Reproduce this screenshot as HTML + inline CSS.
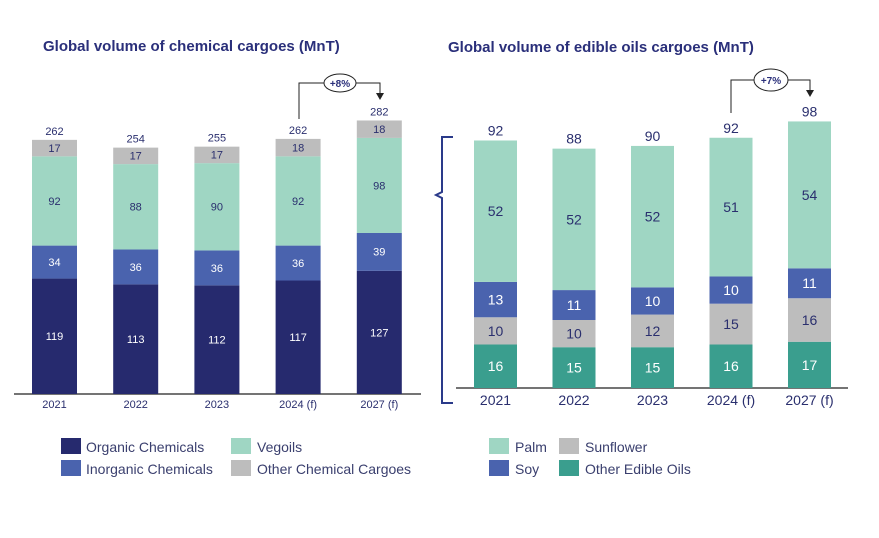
<!DOCTYPE html>
<html><head><meta charset="utf-8"><style>
body{margin:0;background:#fff;}
svg{display:block;font-family:"Liberation Sans",sans-serif;}
</style></head><body>
<svg width="879" height="538" viewBox="0 0 879 538" xmlns="http://www.w3.org/2000/svg">
<text x="43" y="51" font-size="15" font-weight="bold" fill="#2a2f7a">Global volume of chemical cargoes (MnT)</text>
<text x="448" y="52" font-size="15" font-weight="bold" fill="#2a2f7a">Global volume of edible oils cargoes (MnT)</text>
<g id="left"></g><g id="right"></g>
<path d="M453,137 L442,137 L442,192 L436,195 L442,198 L442,403 L453,403" fill="none" stroke="#2a3a8a" stroke-width="2"/>
<g>
<path d="M299,119 L299,83 L380,83 L380,94" fill="none" stroke="#222" stroke-width="1"/>
<polygon points="376,93 384,93 380,100" fill="#222"/>
<ellipse cx="340" cy="83" rx="16" ry="9" fill="#fff" stroke="#222"/>
<text x="340" y="87" font-size="10" font-weight="bold" text-anchor="middle" fill="#2a2f7a">+8%</text></g>
<g>
<path d="M731,113 L731,80 L810,80 L810,91" fill="none" stroke="#222" stroke-width="1"/>
<polygon points="806,90 814,90 810,97" fill="#222"/>
<ellipse cx="771" cy="80" rx="17" ry="11" fill="#fff" stroke="#222"/>
<text x="771" y="84" font-size="10" font-weight="bold" text-anchor="middle" fill="#2a2f7a">+7%</text></g>
<g font-size="14" fill="#3a3f6e">
<rect x="61" y="438" width="20" height="16" fill="#262a6e"/><text x="86" y="452">Organic Chemicals</text>
<rect x="231" y="438" width="20" height="16" fill="#9fd6c3"/><text x="257" y="452">Vegoils</text>
<rect x="61" y="460" width="20" height="16" fill="#4a63ae"/><text x="86" y="474">Inorganic Chemicals</text>
<rect x="231" y="460" width="20" height="16" fill="#bdbdbd"/><text x="257" y="474">Other Chemical Cargoes</text></g>
<g font-size="14" fill="#3a3f6e">
<rect x="489" y="438" width="20" height="16" fill="#9fd6c3"/><text x="515" y="452">Palm</text>
<rect x="559" y="438" width="20" height="16" fill="#bdbdbd"/><text x="585" y="452">Sunflower</text>
<rect x="489" y="460" width="20" height="16" fill="#4a63ae"/><text x="515" y="474">Soy</text>
<rect x="559" y="460" width="20" height="16" fill="#3a9e8e"/><text x="585" y="474">Other Edible Oils</text></g>
</svg>
<script>
const chemCats=["2021","2022","2023","2024 (f)","2027 (f)"];
const chemOrganic=[119,113,112,117,127];
const chemInorganic=[34,36,36,36,39];
const chemVegoils=[92,88,90,92,98];
const chemOther=[17,17,17,18,18];
const chemTotals=[262,254,255,262,282];
const oilCats=["2021","2022","2023","2024 (f)","2027 (f)"];
const oilOther=[16,15,15,16,17];
const oilSunflower=[10,10,12,15,16];
const oilSoy=[13,11,10,10,11];
const oilPalm=[52,52,52,51,54];
const oilTotals=[92,88,90,92,98];
const NS="http://www.w3.org/2000/svg";
function mk(tag,attrs,parent,txt){const e=document.createElementNS(NS,tag);for(const k in attrs)e.setAttribute(k,attrs[k]);if(txt!==undefined)e.textContent=txt;parent.appendChild(e);return e;}
function draw(g,cfg){
  const {cats,series,totals,x0,step,bw,base,scale,axX1,axX2,segFont,totFont,catFont}=cfg;
  const ax=mk('line',{x1:axX1,x2:axX2,y1:base,y2:base,stroke:'#222','stroke-width':1.2},g);
  
  
  cats.forEach((c,i)=>{
    const x=x0+i*step;let y=base;
    series.forEach(s=>{
      const v=s.vals[i];const h=v*scale;y-=h;
      const r=mk('rect',{x:x,y:y,width:bw,height:h,fill:s.color},g);
      
      
      const t=mk('text',{x:x+bw/2,y:y+h/2+segFont*0.35,'font-size':segFont,'text-anchor':'middle',fill:s.text},g,v);
      
      
    });
    const tt=mk('text',{x:x+bw/2,y:y-5,'font-size':totFont,'text-anchor':'middle',fill:'#2a2f6e'},g,totals[i]);
    
    
    const cl=mk('text',{x:x+bw/2,y:base+catFont+3,'font-size':catFont,'text-anchor':'middle',fill:'#2a2f6e'},g,c);
    
    
  });
}
draw(document.getElementById('left'),{cats:chemCats,totals:chemTotals,series:[
 {name:'organic',vals:chemOrganic,color:'#262a6e',text:'#fff'},
 {name:'inorganic',vals:chemInorganic,color:'#4a63ae',text:'#fff'},
 {name:'vegoils',vals:chemVegoils,color:'#9fd6c3',text:'#2a2f6e'},
 {name:'other',vals:chemOther,color:'#bdbdbd',text:'#2a2f6e'}],
 x0:32,step:81.2,bw:45,base:394,scale:0.97,axX1:14,axX2:421,segFont:11,totFont:11,catFont:11});
draw(document.getElementById('right'),{cats:oilCats,totals:oilTotals,series:[
 {name:'other-oils',vals:oilOther,color:'#3a9e8e',text:'#fff'},
 {name:'sunflower',vals:oilSunflower,color:'#bdbdbd',text:'#2a2f6e'},
 {name:'soy',vals:oilSoy,color:'#4a63ae',text:'#fff'},
 {name:'palm',vals:oilPalm,color:'#9fd6c3',text:'#2a2f6e'}],
 x0:474,step:78.5,bw:43,base:388,scale:2.72,axX1:456,axX2:848,segFont:14,totFont:14,catFont:14});
</script>
</body></html>
